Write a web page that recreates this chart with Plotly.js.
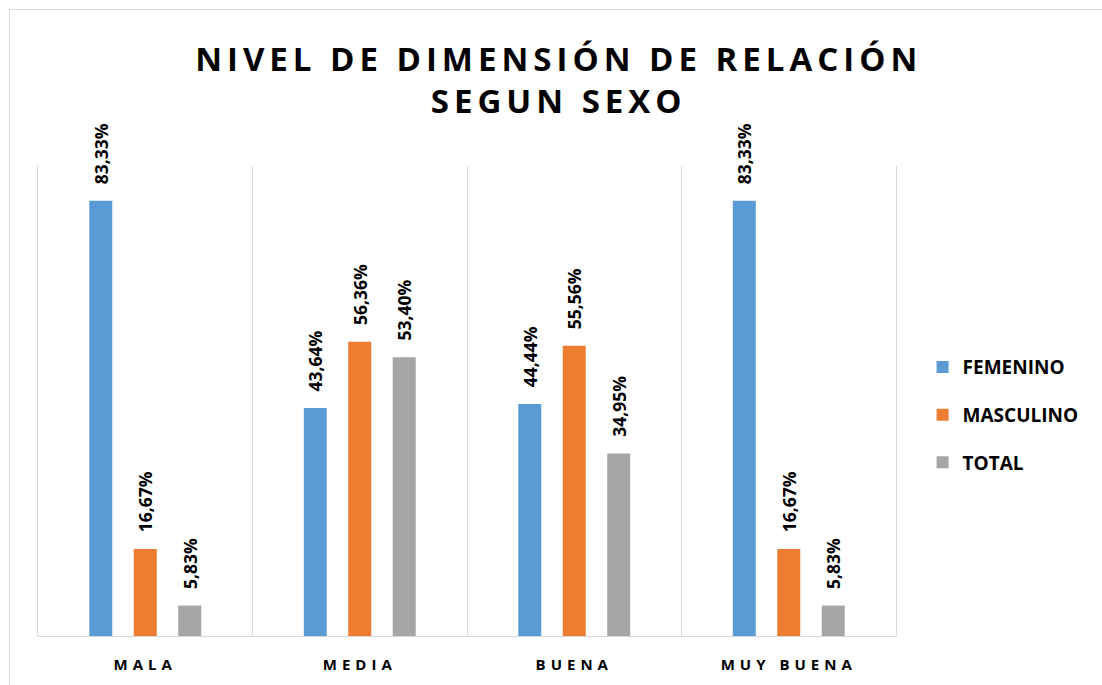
<!DOCTYPE html>
<html>
<head>
<meta charset="utf-8">
<script src="https://cdn.plot.ly/plotly-3.0.1.min.js"></script>
<style>
html, body { margin:0; padding:0; background:#fff; overflow:hidden; }
#chart { width:1102px; height:685px; }
#frame { position:absolute; left:9px; top:9px; right:-5px; bottom:-5px; border:1px solid #d9d9d9; pointer-events:none; }
.gtitle { letter-spacing:5px; }
.xtick text { letter-spacing:5px; }
</style>
</head>
<body>
<div id="chart"></div>
<div id="frame"></div>
<script>
const categories = ['MALA', 'MEDIA', 'BUENA', 'MUY BUENA'];
const seriesNames = ['FEMENINO', 'MASCULINO', 'TOTAL'];
const femenino = [83.33, 43.64, 44.44, 83.33];
const masculino = [16.67, 56.36, 55.56, 16.67];
const total = [5.83, 53.40, 34.95, 5.83];
const colors = ['#5B9BD5', '#ED7D31', '#A5A5A5'];

const fmt = v => '\u00A0\u00A0\u00A0' + v.toFixed(2).replace('.', ',') + '%';

const traces = [femenino, masculino, total].map((vals, i) => ({
  type: 'bar',
  name: seriesNames[i],
  x: categories,
  y: vals,
  text: vals.map(fmt),
  textposition: 'outside',
  textangle: -90,
  constraintext: 'none',
  cliponaxis: false,
  textfont: { family: 'Open Sans', size: 17.5, color: '#000', weight: 'bold' },
  marker: { color: colors[i] },
  legendgroup: 'g' + i,
  hoverinfo: 'skip'
}));

const layout = {
  width: 1102, height: 685,
  margin: { l: 38, r: 206, t: 166, b: 49 },
  paper_bgcolor: '#fff', plot_bgcolor: '#fff',
  barmode: 'group',
  bargap: 0.378,
  bargroupgap: 0.483,
  title: {
    text: 'NIVEL DE DIMENSIÓN DE RELACIÓN<br>SEGUN SEXO',
    font: { family: 'Open Sans', size: 33, color: '#000', weight: 'bold' },
    x: 0.507, xref: 'container', xanchor: 'center',
    y: 0.897, yref: 'container', yanchor: 'top'
  },
  xaxis: {
    type: 'category',
    tickson: 'boundaries',
    showgrid: true, gridcolor: '#D9D9D9', gridwidth: 1,
    showline: true, linecolor: '#D9D9D9', linewidth: 1,
    ticks: '',
    ticklabelstandoff: 15,
    tickfont: { family: 'Open Sans', size: 15, color: '#000', weight: 'bold' },
    range: [-0.5, 3.5],
    fixedrange: true
  },
  yaxis: {
    range: [0, 90],
    showgrid: false, zeroline: false, showticklabels: false,
    showline: true, mirror: true, linecolor: '#D9D9D9', linewidth: 1,
    ticks: '',
    fixedrange: true
  },
  legend: {
    x: 1.031, xanchor: 'left', xref: 'paper',
    y: 0.47, yanchor: 'middle',
    traceorder: 'grouped',
    tracegroupgap: 20,
    font: { family: 'Open Sans', size: 19, color: '#000', weight: 'bold' },
    bgcolor: 'rgba(0,0,0,0)'
  },
  showlegend: true
};

Plotly.newPlot('chart', traces, layout, { displayModeBar: false, staticPlot: true });
</script>
</body>
</html>
